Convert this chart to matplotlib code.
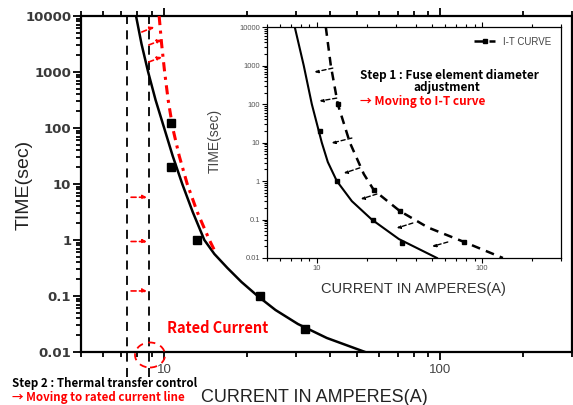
import matplotlib.pyplot as plt
from matplotlib.patches import Ellipse
from matplotlib.ticker import FuncFormatter, NullFormatter, LogLocator

plt.rcParams['font.family'] = ['Liberation Sans', 'DejaVu Sans']
KR = ['Noto Sans CJK KR', 'DejaVu Sans']

# ---- main chart data (current A, time s)
main_I = [7.91, 8.28, 8.75, 9.31, 10.0, 10.74, 11.63, 12.69, 13.98, 15.2, 16.95, 19.05,
          21.8, 25.3, 30.5, 38.8, 53.4]
main_t = [10000, 3162, 1000, 316, 100, 31.6, 10, 3.16, 1, 0.562, 0.316, 0.178,
          0.1, 0.0562, 0.0316, 0.0178, 0.01]
main_mk_I = [10.6, 10.6, 13.2, 22.2, 32.3]
main_mk_t = [123, 20, 1.0, 0.1, 0.026]
red_I = [9.59, 9.79, 10.04, 10.34, 10.74, 11.34, 12.12, 13.18, 14.58, 15.2]
red_t = [10000, 3162, 1000, 316, 100, 31.6, 10, 3.16, 1, 0.66]
rated_lines = [7.33, 8.82]
# red arrows: (start I, start t, end I, end t)
red_arrows = [(8.3, 5180, 9.2, 6360), (8.8, 3040, 9.8, 3730), (8.8, 1510, 9.8, 1850),
              (7.59, 5.8, 8.67, 5.8), (7.59, 0.94, 8.67, 0.94), (7.59, 0.123, 8.67, 0.123)]

# ---- inset data
ins_I = [7.36, 8.34, 9.33, 10.72, 11.66, 13.22, 16.3, 21.5, 31.4, 53.3]
ins_t = [10000, 1000, 100, 10, 3.12, 1, 0.3, 0.1, 0.031, 0.01]
ins_mk_I = [10.4, 13.2, 22.0, 32.7]
ins_mk_t = [20, 1, 0.1, 0.025]
it_I = [11.34, 12.16, 13.4, 15.85, 19.25, 22.14, 31.8, 47.1, 78.0, 133.6]
it_t = [10000, 1000, 100, 10, 1.52, 0.58, 0.166, 0.062, 0.026, 0.01]
it_marked = [2, 5, 6, 8]
ins_arrows = [(12.5, 861, 9.7, 678), (13.2, 143, 10.4, 120), (16.3, 13.1, 12.3, 9.7),
              (18.2, 2.2, 14.6, 1.6), (23.1, 0.46, 18.5, 0.34), (38.1, 0.081, 30.5, 0.06),
              (62.0, 0.026, 50.0, 0.02)]

yticks = [0.01, 0.1, 1, 10, 100, 1000, 10000]
xticks = [10, 100]

W, H = 573, 405
def px(x, y):
    return x / W, 1 - y / H

fig = plt.figure(figsize=(W / 100, H / 100), dpi=100)

ax = fig.add_axes([0.1414, 0.1309, 0.857, 0.8296])
ax.set_xscale('log')
ax.set_yscale('log')
ax.set_xlim(5, 300)
ax.set_ylim(0.01, 10000)

for x in rated_lines:
    ax.axvline(x, ymin=-0.075, ymax=1, color='black', ls=(0, (5, 3.5)), lw=1.3, clip_on=False)

ax.plot(main_I, main_t, color='black', lw=1.8, zorder=3)
ax.plot(red_I, red_t, color='red', lw=2.2, ls=(0, (3, 1.8, 1, 1.8)), zorder=3)
ax.plot(main_mk_I, main_mk_t, 's', color='black', ms=6, zorder=4)
for a in red_arrows:
    ax.annotate('', xy=(a[2], a[3]), xytext=(a[0], a[1]),
                arrowprops=dict(arrowstyle='-|>', color='red', lw=1.2, ls=(0, (3, 2)),
                                mutation_scale=6, shrinkA=0, shrinkB=0))

ax.set_yticks(yticks)
ax.yaxis.set_major_formatter(FuncFormatter(lambda v, p: '%g' % v))
ax.yaxis.set_minor_locator(LogLocator(subs=range(2, 10), numticks=20))
ax.yaxis.set_minor_formatter(NullFormatter())
ax.set_xticks(xticks)
ax.xaxis.set_major_formatter(FuncFormatter(lambda v, p: '%g' % v))
ax.xaxis.set_minor_locator(LogLocator(subs=range(2, 10), numticks=20))
ax.xaxis.set_minor_formatter(NullFormatter())
ax.tick_params(which='both', direction='out', top=True, right=False, width=1.3)
ax.tick_params(which='major', length=6)
ax.tick_params(which='minor', length=3.5)
ax.tick_params(axis='y', which='both', pad=1, labelsize=9.5, labelcolor='#3a3a3a')
ax.tick_params(axis='x', which='both', pad=3, labelsize=9.5, labelcolor='#444444')
for lab in ax.get_yticklabels():
    lab.set_fontweight('bold')
    lab.set_family('DejaVu Sans')
for s in ax.spines.values():
    s.set_linewidth(1.6)

# ---- inset
ax2 = fig.add_axes([0.466, 0.363, 0.513, 0.570], zorder=5)
ax2.set_facecolor('white')
ax2.set_xscale('log')
ax2.set_yscale('log')
ax2.set_xlim(5, 300)
ax2.set_ylim(0.01, 10000)
ax2.plot(ins_I, ins_t, color='black', lw=1.5)
ax2.plot(ins_mk_I, ins_mk_t, 's', color='black', ms=3)
ax2.plot(it_I, it_t, color='black', lw=1.8, ls=(0, (3.5, 2.5)), marker='s', ms=3,
         markevery=it_marked, label='I-T CURVE')
for a in ins_arrows:
    ax2.annotate('', xy=(a[2], a[3]), xytext=(a[0], a[1]),
                 arrowprops=dict(arrowstyle='-|>', color='black', lw=1.0, ls=(0, (3, 2)),
                                 mutation_scale=5, shrinkA=0, shrinkB=0))
ax2.set_yticks(yticks)
ax2.yaxis.set_major_formatter(FuncFormatter(lambda v, p: '%g' % v))
ax2.yaxis.set_minor_locator(LogLocator(subs=range(2, 10), numticks=20))
ax2.yaxis.set_minor_formatter(NullFormatter())
ax2.set_xticks(xticks)
ax2.xaxis.set_major_formatter(FuncFormatter(lambda v, p: '%g' % v))
ax2.xaxis.set_minor_locator(LogLocator(subs=range(2, 10), numticks=20))
ax2.xaxis.set_minor_formatter(NullFormatter())
ax2.tick_params(which='both', direction='out', top=True, right=False, width=0.8,
                labelsize=5.5, labelcolor='#555555', pad=1.5)
ax2.tick_params(which='major', length=3.5)
ax2.tick_params(which='minor', length=2)
for s in ax2.spines.values():
    s.set_linewidth(0.9)
leg = ax2.legend(loc='upper right', frameon=False, fontsize=7, handlelength=2.2,
                 labelcolor='#444444', borderaxespad=0.6)

# ---- labels and notes
fig.text(*px(24, 185), 'TIME(sec)', rotation=90, ha='center', va='center', size=14, color='#222222')
fig.text(*px(314, 398), 'CURRENT IN AMPERES(A)', ha='center', va='center', size=13, color='#222222')
fig.text(*px(215, 141), 'TIME(sec)', rotation=90, ha='center', va='center', size=10, color='#444444', zorder=6)
fig.text(*px(413, 289), 'CURRENT IN AMPERES(A)', ha='center', va='center', size=10.5, color='#333333', zorder=6)

fig.text(*px(360, 75), 'Step 1 : Fuse element diameter', family=KR, weight='bold', size=8.5,
         va='center', zorder=6)
fig.text(*px(447, 88), 'adjustment', family=KR, weight='bold', size=8.5, ha='center', va='center', zorder=6)
fig.text(*px(360, 102), '→ Moving to I-T curve', family=KR, weight='bold', size=8.5, color='red',
         va='center', zorder=6)
fig.text(*px(167, 328), 'Rated Current', family=KR, weight='bold', size=10.5, color='red', va='center')
fig.text(*px(12, 383), 'Step 2 : Thermal transfer control', family=KR, weight='bold', size=8.3, va='center')
fig.text(*px(12, 398), '→ Moving to rated current line', family=KR, weight='bold', size=8.3,
         color='red', va='center')

fig.add_artist(Ellipse(px(150, 355), 30 / W, 25 / H, transform=fig.transFigure, fill=False,
                       ec='red', ls=(0, (4, 3)), lw=1.3))

fig.savefig('out.png', dpi=100)
